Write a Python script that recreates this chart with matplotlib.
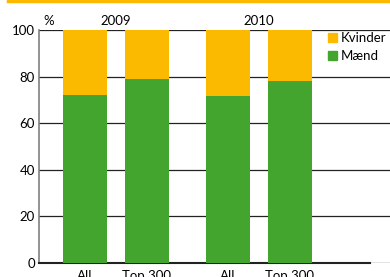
import numpy as np
import matplotlib.pyplot as plt
from matplotlib.lines import Line2D
from matplotlib.patches import Patch

plt.rcParams['font.family'] = ['Lato', 'DejaVu Sans']

years = ['2009', '2010']
labels = ['All', 'Top 300', 'All', 'Top 300']
maend = [72.1, 79.0, 71.7, 78.2]
kvinder = [100 - m for m in maend]

yellow = '#FBBA00'
green = '#43A52D'

pos = np.array([0, 1, 2.3, 3.3])

fig = plt.figure(figsize=(3.9, 2.77), dpi=100)
ax = fig.add_axes([0.1, 0.0505, 0.9, 0.8412])

ax.bar(pos, maend, width=0.71, color=green, zorder=3)
ax.bar(pos, kvinder, width=0.71, bottom=maend, color=yellow, zorder=3)

ax.set_ylim(0, 100)
ax.set_xlim(-0.74, 4.92)
ax.set_yticks([0, 20, 40, 60, 80, 100])
ax.yaxis.grid(True, color='#222222', lw=0.9)
ax.set_axisbelow(True)
ax.set_xticks(pos)
ax.set_xticklabels(labels)
ax.tick_params(length=0, labelsize=9.5, pad=3)
ax.tick_params(axis='x', pad=5)

for s in ['top', 'right']:
    ax.spines[s].set_visible(False)
ax.spines['left'].set_color('#808080')
ax.spines['left'].set_linewidth(1.2)
ax.spines['bottom'].set_color('#222222')
ax.spines['bottom'].set_linewidth(1.5)
ax.spines['bottom'].set_bounds(-0.74, 4.6)

for i, yr in enumerate(years):
    ax.text(pos[2 * i:2 * i + 2].mean(), 101.5, yr, ha='center', va='bottom',
            fontsize=9.5, clip_on=False)
ax.text(0.012, 1.015, '%', transform=ax.transAxes, ha='left', va='bottom',
        fontsize=9.5)

handles = [Patch(color=yellow, label='Kvinder'), Patch(color=green, label='Mænd')]
fig.legend(handles=handles, loc='upper left', bbox_to_anchor=(0.841, 0.885),
           frameon=False, fontsize=9.5, handlelength=0.7, handleheight=0.7,
           handletextpad=0.3, labelspacing=0.5, borderaxespad=0, borderpad=0)

fig.add_artist(Line2D([0.02, 1.0], [0.998, 0.998], color=yellow, lw=2.5,
                      transform=fig.transFigure))

fig.savefig('out.png', dpi=100)
